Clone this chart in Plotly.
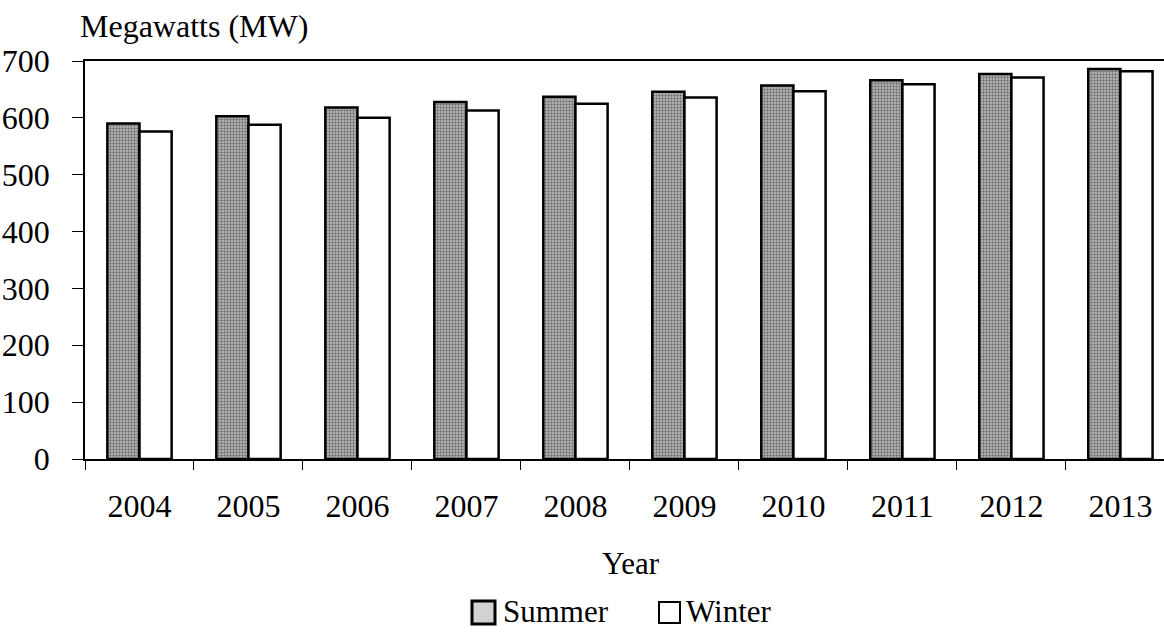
import plotly.graph_objects as go

years = ["2004", "2005", "2006", "2007", "2008", "2009", "2010", "2011", "2012", "2013"]
summer = [590, 603, 618, 628, 637, 646, 657, 666, 677, 686]
winter = [576, 588, 600, 613, 625, 636, 647, 659, 671, 682]
y_ticks = [0, 100, 200, 300, 400, 500, 600, 700]

FONT = "Liberation Serif, Times New Roman, serif"
W, H = 1164, 632
L, T, B = 85, 61, 173
PW = W - L
PH = H - T - B

def px_x(p):
    return (p - L) / PW

def px_y(p):
    return (H - B - p) / PH

fig = go.Figure()
fig.add_trace(go.Bar(
    x=years, y=summer, name="Summer",
    marker=dict(color="#b0b0b0", line=dict(color="black", width=2.5),
                pattern=dict(shape=".", fgcolor="#222222", bgcolor="#c0c0c0",
                             size=3, solidity=0.5)),
    showlegend=False,
))
fig.add_trace(go.Bar(
    x=years, y=winter, name="Winter",
    marker=dict(color="white", line=dict(color="black", width=2.5)),
    showlegend=False,
))

fig.update_layout(
    width=W, height=H,
    margin=dict(l=L, r=0, t=T, b=B, pad=0),
    paper_bgcolor="white", plot_bgcolor="white",
    barmode="group", bargap=0.41, bargroupgap=0,
    font=dict(family=FONT, size=32, color="black"),
    xaxis=dict(
        type="category", range=[-0.5, 9.4],
        showline=True, linecolor="black", linewidth=1.5, mirror=True,
        ticks="outside", tickson="boundaries", ticklen=9, tickcolor="black",
        tickwidth=1, showgrid=False,
        ticklabelstandoff=18,
        tickfont=dict(family=FONT, size=32, color="black"),
    ),
    yaxis=dict(
        range=[0, 700], tickvals=y_ticks,
        showline=True, linecolor="black", linewidth=1.5,
        ticks="outside", ticklen=11, tickcolor="black", tickwidth=1,
        showgrid=False, zeroline=False,
        ticklabelstandoff=16,
        tickfont=dict(family=FONT, size=32, color="black"),
    ),
)

annotations = [
    dict(text="Megawatts (MW)", x=px_x(78), y=px_y(26), xref="paper", yref="paper",
         xanchor="left", yanchor="middle", showarrow=False,
         font=dict(family=FONT, size=32, color="black")),
    dict(text="Year", x=px_x(631), y=px_y(563), xref="paper", yref="paper",
         xanchor="center", yanchor="middle", showarrow=False,
         font=dict(family=FONT, size=31, color="black")),
    dict(text="Summer", x=px_x(501), y=px_y(611), xref="paper", yref="paper",
         xanchor="left", yanchor="middle", showarrow=False,
         font=dict(family=FONT, size=31, color="black")),
    dict(text="Winter", x=px_x(684), y=px_y(611), xref="paper", yref="paper",
         xanchor="left", yanchor="middle", showarrow=False,
         font=dict(family=FONT, size=31, color="black")),
]
fig.update_layout(annotations=annotations)

shapes = [
    dict(type="rect", xref="paper", yref="paper",
         x0=px_x(472), x1=px_x(495), y0=px_y(624), y1=px_y(601),
         fillcolor="#d2d2d2", line=dict(color="black", width=3)),
    dict(type="rect", xref="paper", yref="paper",
         x0=px_x(659), x1=px_x(680), y0=px_y(623), y1=px_y(602),
         fillcolor="white", line=dict(color="black", width=2)),
]
fig.update_layout(shapes=shapes)

fig.write_html("out.html")
